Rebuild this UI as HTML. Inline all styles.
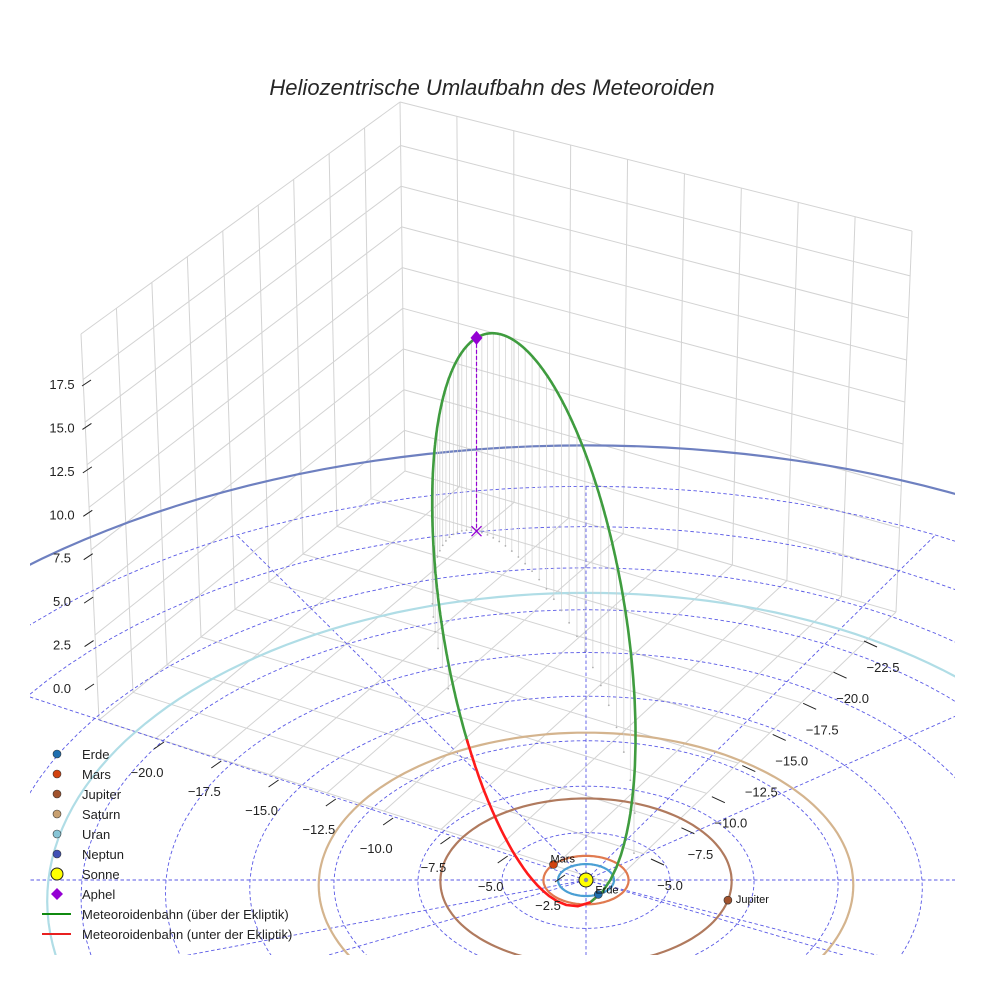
<!DOCTYPE html>
<html><head><meta charset="utf-8">
<style>
html,body{margin:0;padding:0;background:#fff;width:984px;height:984px;overflow:hidden;}
svg{display:block;overflow:hidden;font-family:"Liberation Sans",sans-serif;}
</style></head>
<body>
<svg id="chart" width="984" height="984" viewBox="0 0 984 984">
<defs><clipPath id="sceneClip"><rect x="30" y="0" width="925" height="955"/></clipPath></defs>
<rect x="0" y="0" width="984" height="984" fill="#fff"/>
<text x="492" y="95" text-anchor="middle" font-size="22" font-style="italic" fill="#262626">Heliozentrische Umlaufbahn des Meteoroiden</text>
<g id="box"></g>
<g id="scene" clip-path="url(#sceneClip)"></g>
<g id="axes"></g>
<g id="legend"></g>
</svg>
<script>
// ---- data ----
var planetNames = ["Erde","Mars","Jupiter","Saturn","Uran","Neptun"];
var planetRadii = [1.0, 1.52, 5.2, 9.54, 19.2, 30.1];
var planetAnglesDeg = [-64, 140, -14, -95, -100, 200];
var orbitColors = ["#4a9fd4","#e07a50","#b07a5e","#d4b48e","#b0dde6","#6e80c0"];
var markerColors = ["#1f6fb0","#d2420f","#a0522d","#c8a070","#87c5d6","#3f51b5"];
var meteorA = [13.8];        // semi-major axis (AU)
var meteorE = [0.9275];      // eccentricity
var meteorInc = [60];        // inclination (deg)
var meteorNode = [-64];      // longitude of ascending node (deg)
var meteorPeri = [-29.6];    // argument of perihelion (deg)
var gridRings = [3,6,9,12,15,18,21,24,27];
var gridRays = [0,30,60,90,120,150,180,210,240,270,300,330];
var zTicks = ["0.0","2.5","5.0","7.5","10.0","12.5","15.0","17.5"];
var xTicks = ["\u221220.0","\u221217.5","\u221215.0","\u221212.5","\u221210.0","\u22127.5","\u22125.0","\u22122.5"];
var yTicks = ["\u221222.5","\u221220.0","\u221217.5","\u221215.0","\u221212.5","\u221210.0","\u22127.5","\u22125.0"];

var NS="http://www.w3.org/2000/svg";
function mk(tag,attrs,parent){var e=document.createElementNS(NS,tag);for(var k in attrs)e.setAttribute(k,attrs[k]);parent.appendChild(e);return e;}
var CX=586,CY=880,F=28,S=0.57,K=0.0035,ZS=18.4;
function proj(X,Y,Z){var w=1+K*Y;return [CX+F*X/w, CY-F*S*Y/w-(Z||0)*ZS/w];}
function clampPt(p){return [Math.max(-50,Math.min(1050,p[0])),Math.max(-50,Math.min(1000,p[1]))];}
function pathFrom(pts){return pts.map(function(p,i){p=clampPt(p);return (i?"L":"M")+p[0].toFixed(1)+" "+p[1].toFixed(1);}).join(" ");}

// ---- box ----
var box=document.getElementById("box");
function lerp(a,b,t){return [a[0]+(b[0]-a[0])*t,a[1]+(b[1]-a[1])*t];}
function ln(a,b,name){var l=mk("line",{x1:a[0],y1:a[1],x2:b[0],y2:b[1],stroke:"#d3d3d3","stroke-width":1},box);}
var BB=[405,471],BR=[896,612],BF=[612,884],BL=[99,720],TB=[400,102],TL=[81,334],TR=[912,231];
var fr=[1/9,2/9,3/9,4/9,5/9,6/9,7/9,8/9];
var zv=[]; for(var k=0;k<8;k++) zv.push(0.11+k*0.1103);
fr.forEach(function(t){ln(lerp(BL,BB,t),lerp(TL,TB,t),"left-wall-grid");});
zv.forEach(function(v){ln(lerp(BL,TL,v),lerp(BB,TB,v),"left-wall-grid");});
fr.forEach(function(t){ln(lerp(BB,BR,t),lerp(TB,TR,t),"right-wall-grid");});
zv.forEach(function(v){ln(lerp(BB,TB,v),lerp(BR,TR,v),"right-wall-grid");});
fr.forEach(function(t){ln(lerp(BL,BB,t),lerp(BF,BR,t),"floor-grid");});
fr.forEach(function(t){ln(lerp(BB,BR,t),lerp(BL,BF,t),"floor-grid");});
[[BL,BB],[BB,BR],[BB,TB],[BL,TL],[TL,TB],[TB,TR],[BR,TR],[BL,BF],[BF,BR]].forEach(function(s){ln(s[0],s[1],"box-edge");});

// ---- scene ----
var scene=document.getElementById("scene");
gridRings.forEach(function(r){
  var pts=[];for(var a=0;a<=360;a+=3){var t=a*Math.PI/180;pts.push(proj(r*Math.cos(t),r*Math.sin(t),0));}
  var p=mk("path",{d:pathFrom(pts),fill:"none",stroke:"#5a5ae6","stroke-width":0.9,"stroke-dasharray":"3.5,2.5"},scene);
  
  
});
gridRays.forEach(function(a){
  var t=a*Math.PI/180,R=gridRings[gridRings.length-1];
  var p0=proj(0,0,0),p1=clampPt(proj(R*Math.cos(t),R*Math.sin(t),0));
  if(a===0||a===180){p1=[a===0?984:0,CY];}
  var l=mk("line",{x1:p0[0],y1:p0[1],x2:p1[0],y2:p1[1],stroke:"#5a5ae6","stroke-width":0.9,"stroke-dasharray":"3.5,2.5"},scene);
  
  
});
planetRadii.forEach(function(r,i){
  var pts=[];for(var a=0;a<=360;a+=2){var t=a*Math.PI/180;pts.push(proj(r*Math.cos(t),r*Math.sin(t),0));}
  var p=mk("path",{d:pathFrom(pts),fill:"none",stroke:orbitColors[i],"stroke-width":2.2},scene);
  
  
});
var a=meteorA[0],e=meteorE[0],inc=meteorInc[0]*Math.PI/180,Om=meteorNode[0]*Math.PI/180,w=meteorPeri[0]*Math.PI/180;
function meteorPos(M){var E=M;for(var j=0;j<30;j++)E=E-(E-e*Math.sin(E)-M)/(1-e*Math.cos(E));
  var r=a*(1-e*Math.cos(E));var nu=2*Math.atan2(Math.sqrt(1+e)*Math.sin(E/2),Math.sqrt(1-e)*Math.cos(E/2));var u=w+nu;
  return [r*(Math.cos(Om)*Math.cos(u)-Math.sin(Om)*Math.sin(u)*Math.cos(inc)), r*(Math.sin(Om)*Math.cos(u)+Math.cos(Om)*Math.sin(u)*Math.cos(inc)), r*Math.sin(u)*Math.sin(inc)];}
var N=600,mpts=[];for(var n=0;n<=N;n++)mpts.push(meteorPos(-Math.PI+2*Math.PI*n/N));
mpts.forEach(function(p,n){
  if(n%12!==0||p[2]<0.8)return;
  var t=proj(p[0],p[1],p[2]),b=proj(p[0],p[1],0);
  var l=mk("line",{x1:t[0],y1:t[1],x2:b[0],y2:b[1],stroke:"#d0d0d0","stroke-width":0.7},scene);
  
  
  var c=mk("circle",{cx:b[0],cy:b[1],r:0.9,fill:"#b0b0b0"},scene);
  
  
});
var segs=[],cur=null;
mpts.forEach(function(p){var above=p[2]>=0;if(!cur||cur.above!==above){if(cur)cur.pts.push(p);cur={above:above,pts:cur?[cur.pts[cur.pts.length-2]||p,p]:[p]};segs.push(cur);}else cur.pts.push(p);});
segs.forEach(function(s){
  var pth=mk("path",{d:pathFrom(s.pts.map(function(p){return proj(p[0],p[1],p[2]);})),fill:"none",stroke:s.above?"#3f9c3f":"#ff1a1a","stroke-width":2.6,"stroke-linejoin":"round"},scene);
  
  
});
var ap=meteorPos(Math.PI),apT=proj(ap[0],ap[1],ap[2]),apB=proj(ap[0],ap[1],0);
var al=mk("line",{x1:apT[0],y1:apT[1],x2:apB[0],y2:apB[1],stroke:"#9400d3","stroke-width":1.2,"stroke-dasharray":"4,2"},scene);


var ax=mk("path",{d:"M"+(apB[0]-5)+" "+(apB[1]-5)+"L"+(apB[0]+5)+" "+(apB[1]+5)+"M"+(apB[0]-5)+" "+(apB[1]+5)+"L"+(apB[0]+5)+" "+(apB[1]-5),stroke:"#9400d3","stroke-width":1.3},scene);


var ad=mk("path",{d:"M"+apT[0]+" "+(apT[1]-7)+"L"+(apT[0]+6)+" "+apT[1]+"L"+apT[0]+" "+(apT[1]+7)+"L"+(apT[0]-6)+" "+apT[1]+"Z",fill:"#9400d3"},scene);


var sp=proj(0,0,0);
var sun=mk("circle",{cx:sp[0],cy:sp[1],r:7,fill:"#ffff00",stroke:"#222","stroke-width":1},scene);


var sd=mk("circle",{cx:sp[0],cy:sp[1],r:2.2,fill:"#8888aa"},scene);


planetRadii.forEach(function(r,i){
  var t=planetAnglesDeg[i]*Math.PI/180,p=proj(r*Math.cos(t),r*Math.sin(t),0);
  var c=mk("circle",{cx:p[0],cy:p[1],r:4,fill:markerColors[i],stroke:"#333","stroke-width":0.6},scene);
  
  
  if(i<3){var tx=mk("text",{x:p[0]+(i===2?8:-3),y:p[1]+(i===1?-2:i===0?-1:3),"font-size":11,fill:"#111"},scene);tx.textContent=planetNames[i];
    
    }
});

// ---- axis labels ----
var axes=document.getElementById("axes");
function tick(x1,y1,x2,y2){var l=mk("line",{x1:x1,y1:y1,x2:x2,y2:y2,stroke:"#222","stroke-width":1},axes);}
function lab(x,y,s,anchor,name){var t=mk("text",{x:x,y:y,"font-size":13,fill:"#222","text-anchor":anchor},axes);t.textContent=s;}
var Z0=[62,688],Z1=[62,384];
zTicks.forEach(function(s,k){var p=lerp(Z0,Z1,k/(zTicks.length-1));var tx=p[0]+20+(1-k/7)*3;lab(p[0],p[1]+5,s,"middle","z-tick-label");tick(tx,p[1]+2,tx+9,p[1]-4);});
var X0=[147,772],X1=[548,905];
xTicks.forEach(function(s,k){var p=lerp(X0,X1,k/(xTicks.length-1));lab(p[0],p[1]+5,s,"middle","x-tick-label");tick(p[0]+7,p[1]-23,p[0]+17,p[1]-30);});
var Y0=[883,667],Y1=[670,885];
yTicks.forEach(function(s,k){var p=lerp(Y0,Y1,k/(yTicks.length-1));lab(p[0],p[1]+5,s,"middle","y-tick-label");tick(p[0]-19,p[1]-26,p[0]-6,p[1]-20);});

// ---- legend ----
var lg=document.getElementById("legend");
var legendLabels=["Erde","Mars","Jupiter","Saturn","Uran","Neptun","Sonne","Aphel","Meteoroidenbahn (über der Ekliptik)","Meteoroidenbahn (unter der Ekliptik)"];
legendLabels.forEach(function(s,k){
  var y=754+k*20;
  var m;
  if(k<6){m=mk("circle",{cx:57,cy:y,r:4,fill:markerColors[k],stroke:"#333","stroke-width":0.6},lg);}
  else if(k===6){m=mk("circle",{cx:57,cy:y,r:6,fill:"#ffff00",stroke:"#222","stroke-width":1},lg);}
  else if(k===7){m=mk("path",{d:"M57 "+(y-6)+"L63 "+y+"L57 "+(y+6)+"L51 "+y+"Z",fill:"#9400d3"},lg);}
  else {m=mk("line",{x1:42,y1:y,x2:71,y2:y,stroke:k===8?"#108a10":"#e82020","stroke-width":2},lg);}
  
  
  var t=mk("text",{x:82,y:y+5,"font-size":13,fill:"#222"},lg);t.textContent=s;
  
  
});
</script>
</body></html>
